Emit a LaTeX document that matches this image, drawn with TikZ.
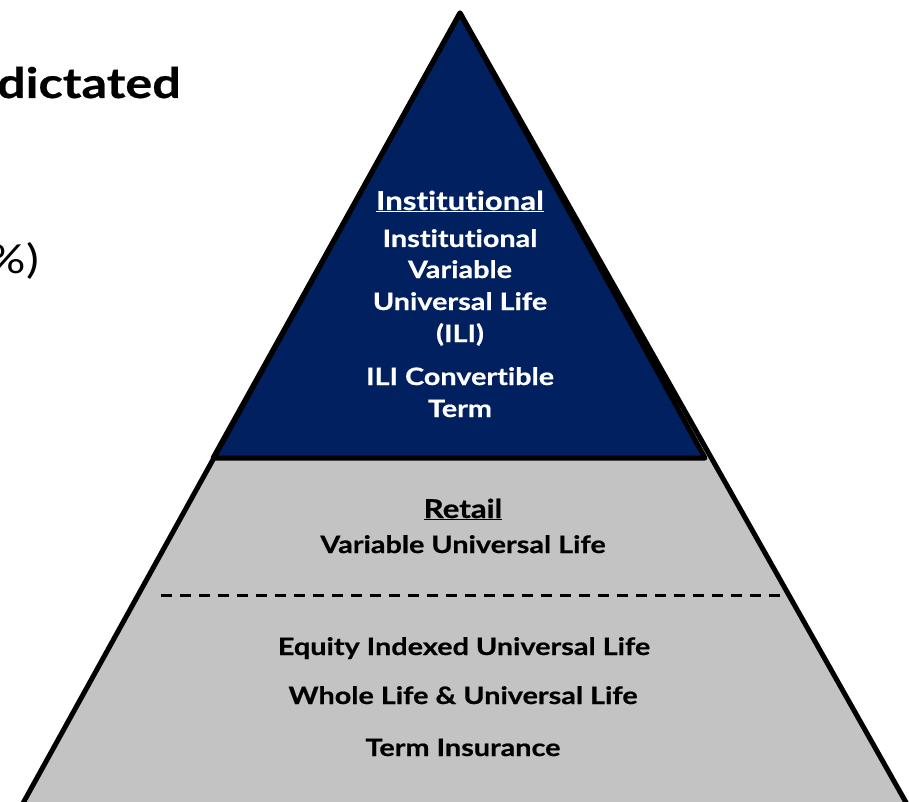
\documentclass[tikz,border=0pt]{standalone}
\usepackage{fontspec}
\setmainfont{Lato}[FakeStretch=1.2, Ligatures=NoCommon, BoldFeatures={FakeBold=0.6}]
\newfontfamily\plainfont{Lato}[FakeStretch=1.2, Ligatures=NoCommon]
\definecolor{tiernavy}{HTML}{002060}
\definecolor{tiergray}{HTML}{C3C3C3}

\tikzset{
  outline/.style={draw=black, line width=5pt, line join=round},
  dashline/.style={draw=black, line width=3pt, dash pattern=on 11pt off 8pt},
  headtxt/.style={anchor=base, inner sep=0pt, font=\bfseries\fontsize{26}{30}\selectfont},
  bodytxt/.style={anchor=base, inner sep=0pt, font=\bfseries\fontsize{24}{32}\selectfont},
}

\begin{document}
\begin{tikzpicture}[x=1pt, y=-1pt]
\useasboundingbox (0,0) rectangle (909,802);
\clip (0,0) rectangle (909,802);

% pyramid corners
\coordinate (apex) at (460,13);
\coordinate (baseL) at (-4,852);
\coordinate (baseR) at (934,852);
\coordinate (midL) at (213,458);
\coordinate (midR) at (705,458);
\coordinate (dashL) at (161,595);
\coordinate (dashR) at (782,595);

% tiers
\fill[tiergray] (apex) -- (baseL) -- (baseR) -- cycle;
\fill[tiernavy] (apex) -- (midL) -- (midR) -- cycle;
\draw[outline] (midL) -- (apex) -- (midR) -- cycle;
\draw[outline] (baseL) -- (apex) -- (baseR);
\draw[dashline] (dashL) -- (dashR);

% institutional tier
\node[headtxt, text=white] (insthead) at (460,210) {\underline{Institutional}};
\node[bodytxt, text=white] (ivul1) at (460,247) {Institutional};
\node[bodytxt, text=white] (ivul2) at (460,278) {Variable};
\node[bodytxt, text=white] (ivul3) at (460,310) {Universal Life};
\node[bodytxt, text=white] (ivul4) at (460,342) {(ILI)};
\node[bodytxt, text=white] (iliterm1) at (460,385) {ILI Convertible};
\node[bodytxt, text=white] (iliterm2) at (460,417) {Term};

% retail tier
\node[headtxt] (retailhead) at (463,518) {\underline{Retail}};
\node[bodytxt] (vul) at (463,553) {Variable Universal Life};
\node[bodytxt] (eiul) at (464,655) {Equity Indexed Universal Life};
\node[bodytxt] (wlul) at (463,704) {Whole Life \& Universal Life};
\node[bodytxt] (term) at (463,756) {Term Insurance};

% text at the left edge
\node[anchor=base east, inner sep=0pt, font=\bfseries\fontsize{42}{48}\selectfont] (dictated) at (181,98) {dictated};
\node[anchor=base east, inner sep=0pt, font=\plainfont\fontsize{40}{48}\selectfont] (pct) at (39,273) {\%)};
\end{tikzpicture}
\end{document}
